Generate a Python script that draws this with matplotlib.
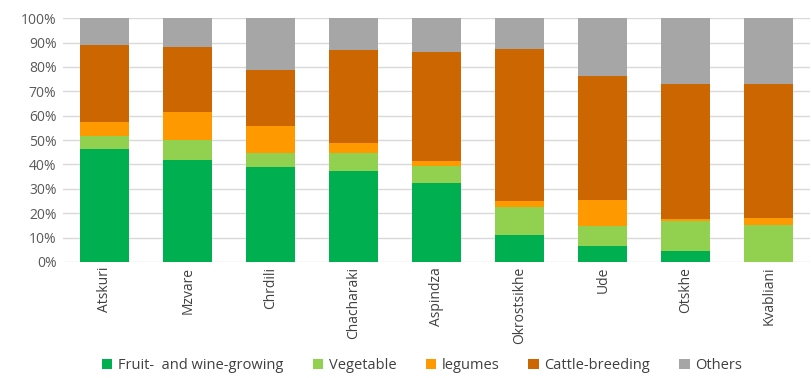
import numpy as np
import matplotlib.pyplot as plt
from matplotlib.ticker import PercentFormatter

# villages and share of each activity (percent)
villages = ['Atskuri', 'Mzvare', 'Chrdili', 'Chacharaki', 'Aspindza',
            'Okrostsikhe', 'Ude', 'Otskhe', 'Kvabliani']
fruit = [46.2, 41.7, 39.1, 37.2, 32.4, 10.9, 6.6, 4.5, 0.0]
vegetable = [5.6, 8.2, 5.7, 7.3, 7.1, 11.5, 8.0, 12.2, 15.3]
legumes = [5.7, 11.7, 10.8, 4.3, 1.9, 2.6, 10.7, 0.8, 2.7]
cattle = [31.3, 26.4, 23.1, 38.0, 44.7, 62.2, 51.1, 55.6, 55.1]
others = [11.2, 12.0, 21.3, 13.2, 13.9, 12.8, 23.6, 26.9, 26.9]

series = [('Fruit-  and wine-growing', fruit, '#00B050'),
          ('Vegetable', vegetable, '#92D050'),
          ('legumes', legumes, '#FF9900'),
          ('Cattle-breeding', cattle, '#CC6600'),
          ('Others', others, '#A6A6A6')]

plt.rcParams['font.family'] = ['Open Sans', 'DejaVu Sans']

fig = plt.figure(figsize=(8.12, 3.78), dpi=100)
ax = fig.add_axes([0.078, 0.307, 0.92, 0.645])

x = np.arange(len(villages))
bottom = np.zeros(len(villages))
for name, vals, col in series:
    ax.bar(x, vals, bottom=bottom, width=0.59, color=col, label=name, zorder=3)
    bottom += np.array(vals)

ax.set_xlim(-0.5, len(villages) - 0.5)
ax.set_ylim(0, 100)
ax.set_yticks(np.arange(0, 101, 10))
ax.yaxis.set_major_formatter(PercentFormatter(decimals=0))
ax.grid(axis='y', color='#D9D9D9', linewidth=1, zorder=0)
for s in ax.spines.values():
    s.set_visible(False)
ax.tick_params(axis='both', length=0, colors='#595959', labelsize=10)
ax.tick_params(axis='y', pad=5)
ax.set_xticks(x)
ax.set_xticklabels(villages, rotation=90, color='#404040')

fig.legend(loc='lower center', bbox_to_anchor=(0.52, -0.022), ncol=5,
           frameon=False, fontsize=10.5, handlelength=0.7, handleheight=0.7,
           handletextpad=0.4, columnspacing=2.0, labelcolor='#404040')

fig.savefig('out.png', dpi=100)
